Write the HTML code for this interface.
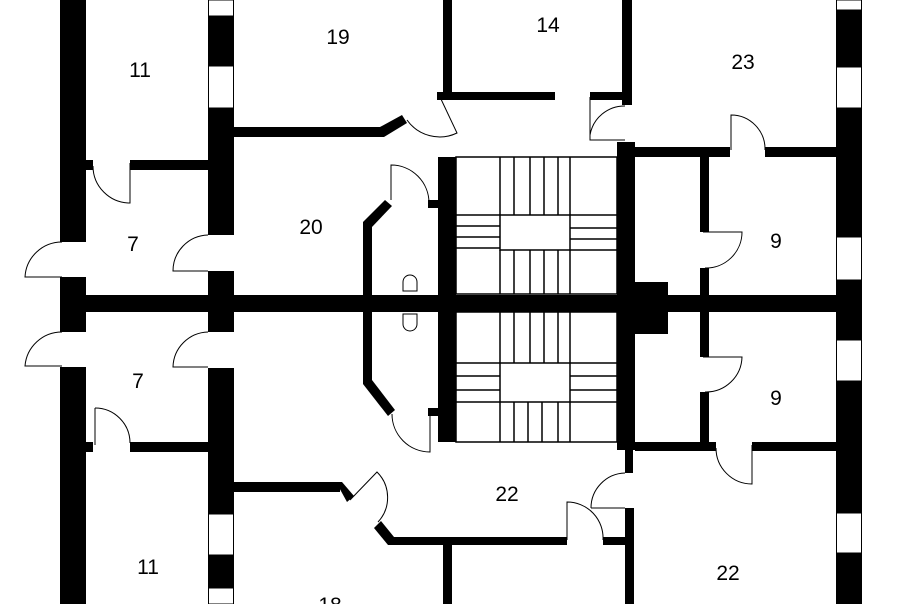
<!DOCTYPE html>
<html><head><meta charset="utf-8"><style>
html,body{margin:0;padding:0;background:#fff;}
svg{display:block;}
text{font-family:"Liberation Sans",sans-serif;font-size:21px;fill:#000;text-anchor:middle;}
</style></head><body>
<svg width="900" height="604" viewBox="0 0 900 604" xmlns="http://www.w3.org/2000/svg">
<g fill="#000">
<rect x="60" y="0" width="26" height="242"/>
<rect x="60" y="277" width="26" height="55"/>
<rect x="60" y="367" width="26" height="237"/>
<rect x="208" y="16" width="26" height="50"/>
<rect x="208" y="108" width="26" height="127"/>
<rect x="208" y="271" width="26" height="61"/>
<rect x="208" y="368" width="26" height="146"/>
<rect x="208" y="555" width="26" height="33"/>
<rect x="836" y="10" width="26" height="57"/>
<rect x="836" y="108" width="26" height="129"/>
<rect x="836" y="280" width="26" height="60"/>
<rect x="836" y="381" width="26" height="132"/>
<rect x="836" y="553" width="26" height="51"/>
<rect x="60" y="295" width="802" height="17"/>
<rect x="86" y="160" width="7" height="10"/>
<rect x="130" y="160" width="78" height="10"/>
<rect x="86" y="442" width="7" height="10"/>
<rect x="130" y="442" width="78" height="10"/>
<rect x="234" y="127" width="150" height="10"/>
<polygon points="380,127 402,115 407,123 384,137"/>
<rect x="443" y="0" width="9" height="100"/>
<rect x="437" y="92" width="118" height="8"/>
<rect x="590" y="92" width="35" height="8"/>
<rect x="622" y="0" width="10" height="105"/>
<rect x="438" y="157" width="18" height="285"/>
<rect x="617" y="142" width="18" height="308"/>
<rect x="625" y="450" width="8" height="23"/>
<rect x="625" y="508" width="9" height="96"/>
<rect x="633" y="282" width="35" height="52"/>
<rect x="635" y="147" width="95" height="10"/>
<rect x="765" y="147" width="71" height="10"/>
<rect x="700" y="157" width="9" height="75"/>
<rect x="700" y="268" width="9" height="27"/>
<rect x="700" y="312" width="9" height="45"/>
<rect x="700" y="392" width="9" height="50"/>
<rect x="635" y="442" width="81" height="9"/>
<rect x="752" y="442" width="84" height="9"/>
<rect x="363" y="222" width="9" height="73"/>
<polygon points="363,222 385,200 392,206 372,227"/>
<rect x="428" y="200" width="10" height="8"/>
<rect x="363" y="312" width="9" height="72"/>
<polygon points="363,384 372,380 395,410 388,416"/>
<rect x="428" y="408" width="10" height="8"/>
<rect x="234" y="482" width="106" height="10"/>
<polygon points="336,482 342,482 354,496 347,502"/>
<polygon points="374,528 381,521 394,537 388,545"/>
<rect x="388" y="537" width="179" height="8"/>
<rect x="603" y="537" width="22" height="8"/>
<rect x="443" y="545" width="9" height="59"/>
</g>
<g fill="none" stroke="#000" stroke-width="1">
<rect x="208.5" y="0" width="25" height="16"/>
<rect x="208.5" y="66" width="25" height="42"/>
<rect x="208.5" y="514" width="25" height="41"/>
<rect x="208.5" y="588" width="25" height="16"/>
<rect x="836.5" y="0" width="25" height="10"/>
<rect x="836.5" y="67" width="25" height="41"/>
<rect x="836.5" y="237" width="25" height="43"/>
<rect x="836.5" y="340" width="25" height="41"/>
<rect x="836.5" y="513" width="25" height="40"/>
<path d="M130 163 V203 A37 37 0 0 1 93 166"/>
<path d="M62 277 H25 A37 37 0 0 1 62 242"/>
<path d="M208 271 H173 A36 36 0 0 1 208 235"/>
<path d="M62 366 H25 A37 37 0 0 1 62 332"/>
<path d="M208 367 H173 A36 36 0 0 1 208 332"/>
<path d="M95 408 V445"/>
<path d="M95 408 A35 35 0 0 1 130 443"/>
<path d="M440 97 L457 133 A40 40 0 0 1 407 120"/>
<path d="M590 97 V140 H625"/>
<path d="M590 135 A35 35 0 0 1 625 106"/>
<path d="M731 150 V115 A34 34 0 0 1 765 150"/>
<path d="M703 232 H742 A36 36 0 0 1 705 268"/>
<path d="M703 357 H742 A36 36 0 0 1 705 392"/>
<path d="M752 445 V484 A36 36 0 0 1 716 448"/>
<path d="M591 508 H625"/>
<path d="M591 508 A35 35 0 0 1 625 473"/>
<path d="M567 540 V502 A36 36 0 0 1 603 540"/>
<path d="M350 500 L377 472 A36 36 0 0 1 378 522"/>
<path d="M391 200 V165 A38 38 0 0 1 429 203"/>
<path d="M430 413 V452 A38 38 0 0 1 392 414"/>
<path d="M403 291 V282 A7 7 0 0 1 417 282 V291 Z"/>
<path d="M403 314 V324 A7 7 0 0 0 417 324 V314 Z"/>
</g>
<g fill="none" stroke="#000" stroke-width="1.5">
<rect x="456" y="157" width="161" height="137"/>
<rect x="500" y="215" width="70" height="35"/>
<path d="M500 157V215 M514 157V215 M530 157V215 M544 157V215 M558 157V215 M570 157V215"/>
<path d="M500 250V294 M514 250V294 M530 250V294 M544 250V294 M558 250V294 M570 250V294"/>
<path d="M456 215H500 M456 226H500 M456 237H500 M456 248H500"/>
<path d="M570 215H617 M570 228H617 M570 239H617 M570 250H617"/>
<rect x="456" y="312" width="161" height="130"/>
<rect x="500" y="363" width="70" height="39"/>
<path d="M500 312V363 M514 312V363 M530 312V363 M544 312V363 M558 312V363 M570 312V363"/>
<path d="M500 402V442 M514 402V442 M528 402V442 M542 402V442 M558 402V442 M570 402V442"/>
<path d="M456 363H500 M456 376H500 M456 390H500 M456 402H500"/>
<path d="M570 363H617 M570 376H617 M570 390H617 M570 402H617"/>
</g>
<g>
<text x="140" y="77">11</text>
<text x="338" y="44">19</text>
<text x="548" y="32">14</text>
<text x="743" y="69">23</text>
<text x="133" y="251">7</text>
<text x="311" y="234">20</text>
<text x="776" y="248">9</text>
<text x="138" y="388">7</text>
<text x="776" y="405">9</text>
<text x="507" y="501">22</text>
<text x="148" y="574">11</text>
<text x="728" y="580">22</text>
<text x="330" y="612">18</text>
</g>
</svg>
</body></html>
